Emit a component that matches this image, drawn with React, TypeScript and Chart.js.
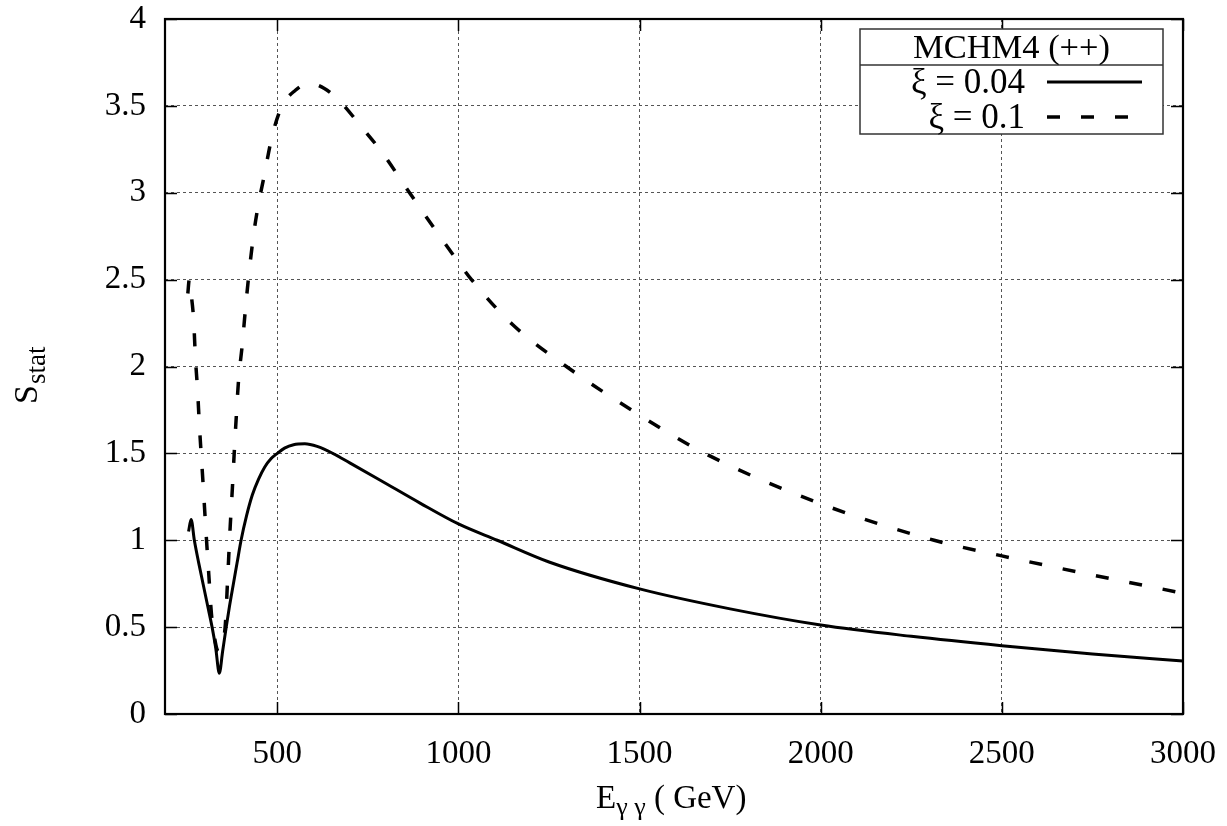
import React, { useEffect, useRef } from "react";
import { Chart, registerables } from "chart.js";

Chart.register(...registerables);

// xi = 0.04 (solid)
const energy004 = [255, 262, 271, 283, 295, 308, 320, 330, 340, 349, 359, 368, 378, 389, 400, 415, 431, 448, 465, 483, 500, 520, 545, 576, 610, 653, 700, 783, 894, 1000, 1107, 1250, 1500, 1750, 2000, 2250, 2500, 2750, 3000];
const sstat004 = [1.05, 1.12, 1.0, 0.87, 0.75, 0.62, 0.5, 0.38, 0.235, 0.36, 0.5, 0.62, 0.74, 0.87, 1.0, 1.14, 1.26, 1.35, 1.42, 1.47, 1.5, 1.53, 1.55, 1.555, 1.54, 1.5, 1.445, 1.347, 1.214, 1.094, 1.0, 0.875, 0.72, 0.605, 0.512, 0.447, 0.393, 0.346, 0.305];

// xi = 0.1 (dashed)
const energy01 = [253, 257, 262, 269, 274, 280, 285, 295, 304, 311, 318, 326, 334, 340, 346, 356, 363, 370, 376, 381, 387, 393, 403, 412, 420, 434, 445, 464, 485, 511, 550, 588, 630, 671, 732, 790, 865, 1000, 1036, 1150, 1298, 1500, 1680, 2000, 2313, 2500, 2750, 3000];
const sstat01 = [2.42, 2.5, 2.42, 2.27, 2.05, 1.86, 1.66, 1.33, 1.02, 0.8, 0.58, 0.45, 0.37, 0.36, 0.4, 0.5, 0.78, 1.08, 1.3, 1.5, 1.72, 1.92, 2.12, 2.33, 2.5, 2.75, 2.9, 3.1, 3.32, 3.49, 3.59, 3.63, 3.6, 3.53, 3.38, 3.23, 3.0, 2.6, 2.5, 2.24, 2.0, 1.72, 1.5, 1.21, 1.0, 0.91, 0.8, 0.695];

const xTickValues = [500, 1000, 1500, 2000, 2500, 3000];
const yTickValues = [0, 0.5, 1, 1.5, 2, 2.5, 3, 3.5, 4];
const legendTitle = "MCHM4 (++)";
const seriesLabels = ["ξ = 0.04", "ξ = 0.1"];

const SERIF = "'Liberation Serif', 'DejaVu Serif', serif";

const framePlugin = {
  id: "gnuplotFrame",
  afterDatasetsDraw(chart: any) {
    const { ctx, chartArea, scales } = chart;
    const { left, right, top, bottom } = chartArea;
    const x = scales.x;
    const y = scales.y;
    ctx.save();
    // inward ticks on all four sides
    ctx.strokeStyle = "#000";
    ctx.lineWidth = 1.5;
    ctx.setLineDash([]);
    const tl = 12;
    xTickValues.forEach((v) => {
      const px = Math.round(x.getPixelForValue(v)) + 0.5;
      ctx.beginPath();
      ctx.moveTo(px, bottom);
      ctx.lineTo(px, bottom - tl);
      ctx.moveTo(px, top);
      ctx.lineTo(px, top + tl);
      ctx.stroke();
    });
    yTickValues.forEach((v) => {
      const py = Math.round(y.getPixelForValue(v)) + 0.5;
      ctx.beginPath();
      ctx.moveTo(left, py);
      ctx.lineTo(left + tl, py);
      ctx.moveTo(right, py);
      ctx.lineTo(right - tl, py);
      ctx.stroke();
    });
    // frame
    ctx.lineWidth = 2.2;
    ctx.strokeRect(left, top, right - left, bottom - top);

    // legend box
    const bx = 860, by = 29, bw = 303, bh = 105, sep = 65;
    ctx.fillStyle = "#fff";
    ctx.fillRect(bx, by, bw, bh);
    ctx.strokeStyle = "#333";
    ctx.lineWidth = 1.5;
    ctx.strokeRect(bx, by, bw, bh);
    ctx.beginPath();
    ctx.moveTo(bx, sep);
    ctx.lineTo(bx + bw, sep);
    ctx.stroke();
    ctx.fillStyle = "#000";
    ctx.font = `34.5px ${SERIF}`;
    ctx.textAlign = "center";
    ctx.textBaseline = "alphabetic";
    ctx.fillText(legendTitle, bx + bw / 2, 58);
    ctx.font = `35px ${SERIF}`;
    ctx.textAlign = "right";
    ctx.fillText(seriesLabels[0], 1025, 93);
    ctx.fillText(seriesLabels[1], 1025, 128);
    ctx.strokeStyle = "#000";
    ctx.lineWidth = 3;
    ctx.beginPath();
    ctx.moveTo(1047, 82);
    ctx.lineTo(1142, 82);
    ctx.stroke();
    ctx.lineWidth = 3.5;
    ctx.setLineDash([13, 21]);
    ctx.beginPath();
    ctx.moveTo(1047, 117);
    ctx.lineTo(1142, 117);
    ctx.stroke();
    ctx.setLineDash([]);
    ctx.restore();
  },
  afterDraw(chart: any) {
    const { ctx } = chart;
    ctx.save();
    ctx.fillStyle = "#000";
    ctx.textAlign = "left";
    ctx.textBaseline = "alphabetic";
    // x axis title: E_{γγ} ( GeV)
    let cx = 596;
    ctx.font = `33px ${SERIF}`;
    ctx.fillText("E", cx, 808);
    cx += ctx.measureText("E").width;
    ctx.font = `26px ${SERIF}`;
    ctx.fillText("γ γ", cx, 815);
    cx += ctx.measureText("γ γ").width;
    ctx.font = `33px ${SERIF}`;
    ctx.fillText(" ( GeV)", cx, 808);

    // y axis title: S_{stat}
    ctx.translate(37, 404);
    ctx.rotate(-Math.PI / 2);
    ctx.font = `34px ${SERIF}`;
    ctx.fillText("S", 0, 0);
    const w = ctx.measureText("S").width;
    ctx.font = `27px ${SERIF}`;
    ctx.fillText("stat", w + 1, 8);
    ctx.restore();
  },
};

export default function App() {
  const canvasRef = useRef<HTMLCanvasElement | null>(null);

  useEffect(() => {
    document.body.style.margin = "0";
    const canvas = canvasRef.current;
    if (!canvas) return;
    const chart = new Chart(canvas, {
      type: "line",
      data: {
        datasets: [
          {
            label: seriesLabels[0],
            data: energy004.map((e, i) => ({ x: e, y: sstat004[i] })),
            borderColor: "#000",
            borderWidth: 3,
            pointRadius: 0,
            fill: false,
            cubicInterpolationMode: "monotone",
          },
          {
            label: seriesLabels[1],
            data: energy01.map((e, i) => ({ x: e, y: sstat01[i] })),
            borderColor: "#000",
            borderWidth: 3.5,
            borderDash: [13, 21],
            pointRadius: 0,
            fill: false,
            cubicInterpolationMode: "monotone",
          },
        ],
      },
      options: {
        animation: false,
        responsive: false,
        devicePixelRatio: 1,
        layout: { padding: { top: 19, right: 44, left: 0, bottom: 0 } },
        plugins: {
          legend: { display: false },
          tooltip: { enabled: false },
          title: { display: false },
        },
        scales: {
          x: {
            type: "linear",
            min: 190,
            max: 3000,
            afterFit: (s: any) => {
              s.height = 112;
              s.paddingLeft = 0;
              s.paddingRight = 0;
            },
            afterBuildTicks: (s: any) => {
              s.ticks = xTickValues.map((v) => ({ value: v }));
            },
            grid: { color: "#555", lineWidth: 1, drawTicks: false },
            border: { display: false, dash: [3, 3] },
            ticks: {
              color: "#000",
              font: { family: SERIF, size: 33 },
              padding: 21,
              maxRotation: 0,
              callback: (v: any) => String(v),
            },
          },
          y: {
            type: "linear",
            min: 0,
            max: 4,
            afterFit: (s: any) => {
              s.width = 165;
              s.paddingTop = 0;
              s.paddingBottom = 0;
            },
            afterBuildTicks: (s: any) => {
              s.ticks = yTickValues.map((v) => ({ value: v }));
            },
            grid: { color: "#555", lineWidth: 1, drawTicks: false },
            border: { display: false, dash: [3, 3] },
            ticks: {
              color: "#000",
              font: { family: SERIF, size: 33 },
              padding: 19,
              callback: (v: any) => String(v),
            },
          },
        },
      },
      plugins: [framePlugin],
    });
    return () => chart.destroy();
  }, []);

  return (
    <div style={{ width: 1227, height: 826, background: "#fff" }}>
      <canvas ref={canvasRef} width={1227} height={826} style={{ display: "block" }} />
    </div>
  );
}
